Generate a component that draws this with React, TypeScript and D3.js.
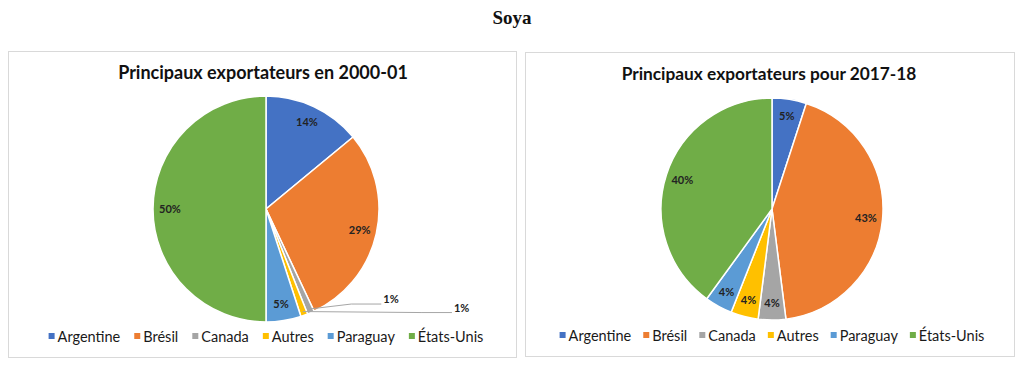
import React, { useEffect, useRef } from 'react'
import * as d3 from 'd3'

const countries = ['Argentine', 'Brésil', 'Canada', 'Autres', 'Paraguay', 'États-Unis']
const colors = ['#4472C4', '#ED7D31', '#A5A5A5', '#FFC000', '#5B9BD5', '#70AD47']
const shares2000 = [14, 29, 1, 1, 5, 50]
const shares2017 = [5, 43, 4, 4, 4, 40]
const mainTitle = 'Soya'
const title2000 = 'Principaux exportateurs en 2000-01'
const title2017 = 'Principaux exportateurs pour 2017-18'

// where the small-slice labels go (leader lines), relative to slice edge
const outsideShift = [
  { dx: 72, dy: -5 },
  { dx: 149, dy: 1 },
]

const FONT = 'Lato, "Liberation Sans", sans-serif'

const drawPanel = (svg, cfg) => {
  const { x0, y0, w, h, title, values, cx, cy, r, legendY, legendGap, titleSize } = cfg
  const g = svg.append('g')

  g.append('rect')
    .attr('x', x0 + 0.5)
    .attr('y', y0 + 0.5)
    .attr('width', w)
    .attr('height', h)
    .attr('fill', '#fff')
    .attr('stroke', '#D9D9D9')

  g.append('text')
    .attr('x', cx - 3)
    .attr('y', y0 + 28)
    .attr('text-anchor', 'middle')
    .attr('font-family', FONT)
    .attr('font-weight', 700)
    .attr('font-size', titleSize)
    .attr('fill', '#111')
    .text(title)

  const pie = d3.pie().sort(null).value((d) => d.v)
  const arcs = pie(values.map((v, i) => ({ v, name: countries[i], color: colors[i] })))
  const arc = d3.arc().innerRadius(0).outerRadius(r)
  const labelArc = d3.arc().innerRadius(r * 0.85).outerRadius(r * 0.85)

  const pg = g.append('g').attr('transform', `translate(${cx},${cy})`)
  pg.selectAll('path')
    .data(arcs)
    .enter()
    .append('path')
    .attr('d', arc)
    .attr('fill', (d) => d.data.color)
    .attr('stroke', '#fff')
    .attr('stroke-width', 1.5)

  let k = 0
  arcs.forEach((d) => {
    if (d.data.v < 2) {
      const mid = (d.startAngle + d.endAngle) / 2
      const sx = Math.sin(mid) * (r - 4)
      const sy = -Math.cos(mid) * (r - 4)
      const sh = outsideShift[k++] || { dx: 70, dy: 0 }
      const ex = sx + sh.dx
      const ey = sy + sh.dy
      pg.append('polyline')
        .attr('points', `${sx},${sy} ${ex - 30},${ey} ${ex},${ey}`)
        .attr('fill', 'none')
        .attr('stroke', '#A6A6A6')
        .attr('stroke-width', 1)
      pg.append('text')
        .attr('x', ex + 2)
        .attr('y', ey - 1)
        .attr('font-family', FONT)
        .attr('font-weight', 700)
        .attr('font-size', 11)
        .attr('fill', '#222')
        .text(`${d.data.v}%`)
    } else {
      const [lx, ly] = labelArc.centroid(d)
      pg.append('text')
        .attr('x', lx)
        .attr('y', ly)
        .attr('dy', '0.35em')
        .attr('text-anchor', 'middle')
        .attr('font-family', FONT)
        .attr('font-weight', 700)
        .attr('font-size', 11)
        .attr('fill', '#222')
        .text(`${d.data.v}%`)
    }
  })

  // legend, measured then centred
  const lg = g.append('g')
  const items = countries.map((name, i) => {
    const it = lg.append('g')
    it.append('rect').attr('width', 6).attr('height', 6).attr('y', -9).attr('fill', colors[i])
    const t = it
      .append('text')
      .attr('x', 9)
      .attr('font-family', FONT)
      .attr('font-size', 14.5)
      .attr('fill', '#1a1a1a')
      .text(name)
    return { it, w: 9 + t.node().getComputedTextLength() }
  })
  const total = d3.sum(items, (d) => d.w) + legendGap * (items.length - 1)
  let x = cx - total / 2
  items.forEach((d) => {
    d.it.attr('transform', `translate(${x},${legendY})`)
    x += d.w + legendGap
  })
}

const App = () => {
  const svgRef = useRef()
  useEffect(() => {
    const svg = d3.select(svgRef.current)
    svg.selectAll('*').remove()

    svg.append('rect').attr('width', 1024).attr('height', 367).attr('fill', '#fff')

    svg
      .append('text')
      .attr('x', 512)
      .attr('y', 24)
      .attr('text-anchor', 'middle')
      .attr('font-family', '"Liberation Serif", "Times New Roman", serif')
      .attr('font-weight', 700)
      .attr('font-size', 19)
      .attr('fill', '#111')
      .text(mainTitle)

    drawPanel(svg, {
      x0: 8, y0: 51, w: 508, h: 306,
      title: title2000, values: shares2000, titleSize: 18,
      cx: 266, cy: 209, r: 113, legendY: 342, legendGap: 14,
    })
    drawPanel(svg, {
      x0: 525, y0: 52, w: 489, h: 304,
      title: title2017, values: shares2017, titleSize: 17.3,
      cx: 772, cy: 209, r: 111, legendY: 341, legendGap: 12,
    })
  }, [])

  return (
    <svg
      ref={svgRef}
      width={1024}
      height={367}
      style={{ position: 'absolute', left: 0, top: 0, display: 'block' }}
    ></svg>
  )
}

export default App
